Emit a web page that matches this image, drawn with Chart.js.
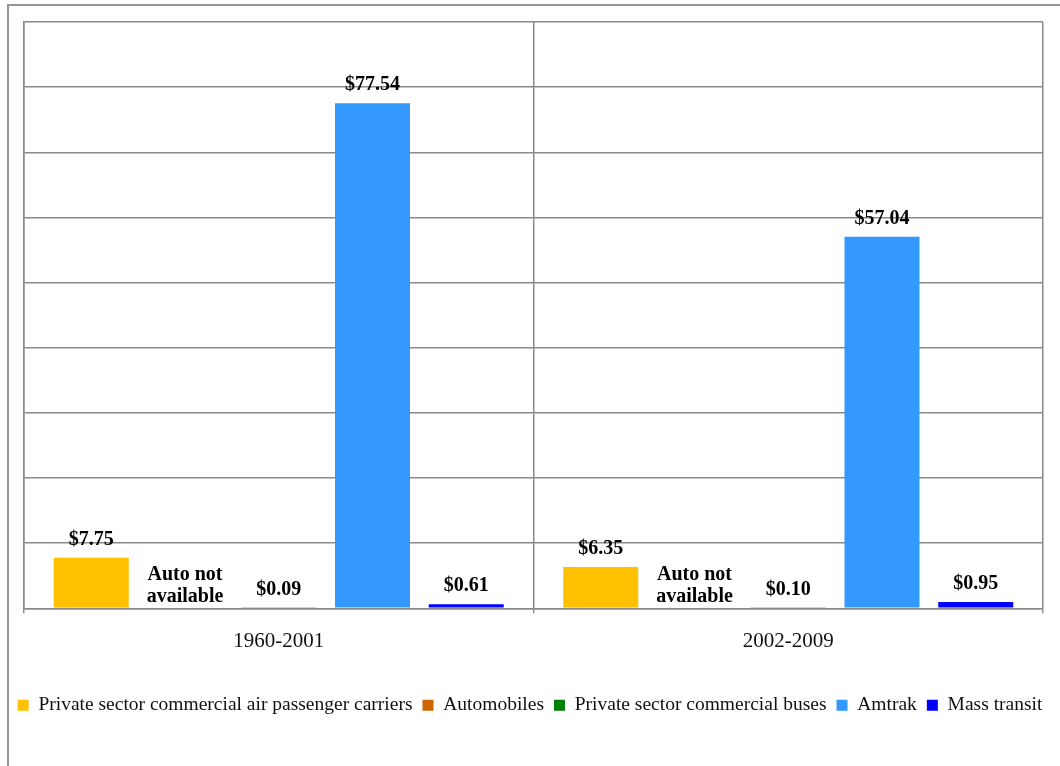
<!DOCTYPE html>
<html>
<head>
<meta charset="utf-8">
<script src="https://cdn.jsdelivr.net/npm/chart.js@4"></script>
<style>
    html, body { margin: 0; padding: 0; background: #fff; overflow: hidden; }
    #wrap { position: relative; width: 1060px; height: 766px; }
    #frame { position: absolute; left: 7px; top: 4px; width: 1100px; height: 800px; border: 2px solid #969696; box-sizing: border-box; }
    #chart { position: absolute; left: 0; top: 0; }
</style>
</head>
<body>
<div id="wrap">
    <div id="frame"></div>
    <canvas id="chart" width="1060" height="766"></canvas>
</div>
<script>
// Categories and series
const periods = ['1960-2001', '2002-2009'];
const airCarriers = [7.75, 6.35];
const automobiles = [null, null];
const buses = [0.09, 0.10];
const amtrak = [77.54, 57.04];
const massTransit = [0.61, 0.95];

const seriesNames = [
    'Private sector commercial air passenger carriers',
    'Automobiles',
    'Private sector commercial buses',
    'Amtrak',
    'Mass transit'
];
const seriesColors = ['#FFC000', '#CC6600', '#008000', '#3399FF', '#0000FF'];
const missingNote = ['Auto not', 'available'];

const serif = '"Liberation Serif", "DejaVu Serif", serif';

// Draw value labels above bars (and the note where there is no value)
const valueLabels = {
    id: 'valueLabels',
    afterDatasetsDraw(chart) {
        const ctx = chart.ctx;
        const base = chart.scales.y.getPixelForValue(0);
        ctx.save();
        ctx.fillStyle = '#000';
        ctx.font = 'bold 20px ' + serif;
        ctx.textAlign = 'center';
        ctx.textBaseline = 'middle';
        chart.data.datasets.forEach((ds, i) => {
            const meta = chart.getDatasetMeta(i);
            meta.data.forEach((bar, j) => {
                const v = ds.data[j];
                if (v === null) {
                    ctx.fillText(missingNote[0], bar.x, base - 33);
                    ctx.fillText(missingNote[1], bar.x, base - 11);
                } else {
                    ctx.fillText('$' + v.toFixed(2), bar.x, bar.y - 18);
                }
            });
        });
        ctx.restore();
    }
};

const allSeries = [airCarriers, automobiles, buses, amtrak, massTransit];

new Chart(document.getElementById('chart'), {
    type: 'bar',
    data: {
        labels: periods,
        datasets: allSeries.map((d, i) => ({
            label: seriesNames[i],
            data: d,
            backgroundColor: seriesColors[i],
            borderWidth: 0,
            barPercentage: 0.8,
            categoryPercentage: 0.92
        }))
    },
    options: {
        responsive: false,
        animation: false,
        layout: {
            padding: { left: 0, top: 22, right: 0, bottom: 41 }
        },
        plugins: {
            tooltip: { enabled: false },
            legend: {
                position: 'bottom',
                labels: {
                    boxWidth: 11,
                    boxHeight: 11,
                    padding: 10,
                    color: '#111',
                    font: { size: 19.5, family: serif }
                }
            }
        },
        scales: {
            x: {
                grid: {
                    offset: true,
                    color: '#8a8a8a',
                    lineWidth: 1.5,
                    tickLength: 5
                },
                border: { color: '#8a8a8a', width: 1.5 },
                ticks: {
                    padding: 16,
                    color: '#111',
                    font: { size: 21, family: serif }
                },
                afterFit(scale) { scale.height += 15; }
            },
            y: {
                min: 0,
                max: 90,
                ticks: { display: false, stepSize: 10 },
                grid: { color: '#8a8a8a', lineWidth: 1.5, drawTicks: false },
                border: { color: '#8a8a8a', width: 1.5 },
                afterFit(scale) { scale.width = 24; }
            },
            // empty right axis only to keep the right margin of the plot
            yRight: {
                position: 'right',
                min: 0,
                max: 90,
                ticks: { display: false },
                grid: { display: false, drawTicks: false },
                border: { display: false },
                afterFit(scale) { scale.width = 17; }
            }
        }
    },
    plugins: [valueLabels]
});
</script>
</body>
</html>
